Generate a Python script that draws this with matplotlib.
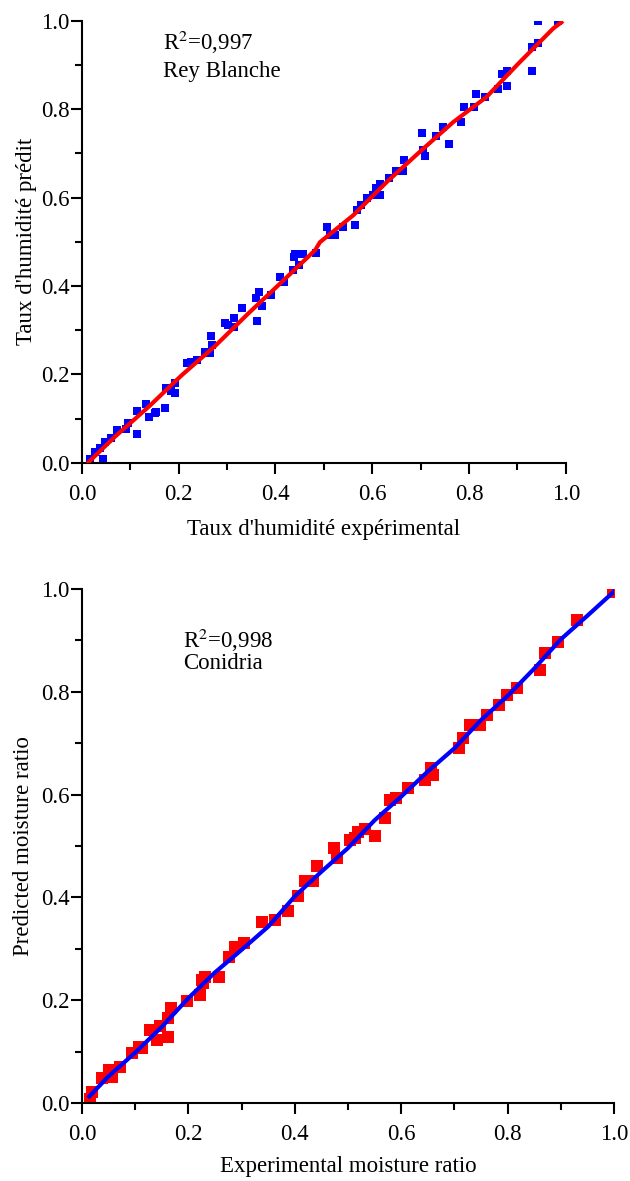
import matplotlib.pyplot as plt
from matplotlib.ticker import MultipleLocator

plt.rcParams['font.family'] = ['Liberation Serif', 'DejaVu Serif']

FS = 16.5

# ---------------- DATA ----------------
# Rey Blanche: experimental vs predicted moisture ratio
rb_exp = [0.017, 0.027, 0.044, 0.037, 0.047, 0.060, 0.072, 0.091, 0.095, 0.114,
          0.114, 0.132, 0.138, 0.151, 0.153, 0.171, 0.173, 0.184, 0.192, 0.192,
          0.217, 0.225, 0.238, 0.254, 0.265, 0.269, 0.267, 0.295, 0.302, 0.314,
          0.314, 0.331, 0.362, 0.360, 0.366, 0.372, 0.391, 0.409, 0.417, 0.436,
          0.438, 0.440, 0.448, 0.457, 0.483, 0.507, 0.512, 0.523, 0.539, 0.564,
          0.568, 0.577, 0.589, 0.601, 0.607, 0.616, 0.616, 0.634, 0.650, 0.663,
          0.665, 0.702, 0.705, 0.709, 0.731, 0.746, 0.758, 0.783, 0.789, 0.810,
          0.814, 0.833, 0.860, 0.868, 0.878, 0.878, 0.930, 0.930, 0.942, 0.942,
          0.983]
rb_pred = [0.009, 0.025, 0.009, 0.034, 0.047, 0.056, 0.074, 0.077, 0.090, 0.065,
           0.117, 0.133, 0.104, 0.113, 0.115, 0.124, 0.169, 0.162, 0.158, 0.181,
           0.226, 0.228, 0.232, 0.251, 0.248, 0.266, 0.287, 0.316, 0.312, 0.327,
           0.307, 0.350, 0.321, 0.372, 0.386, 0.354, 0.379, 0.420, 0.409, 0.436,
           0.465, 0.472, 0.447, 0.472, 0.474, 0.533, 0.515, 0.515, 0.533, 0.537,
           0.571, 0.582, 0.598, 0.605, 0.621, 0.605, 0.630, 0.643, 0.659, 0.659,
           0.684, 0.745, 0.707, 0.693, 0.740, 0.760, 0.722, 0.770, 0.804, 0.804,
           0.833, 0.828, 0.846, 0.880, 0.885, 0.851, 0.941, 0.885, 0.950, 0.998,
           0.998]
rb_fit_x = [0.014, 0.069, 0.138, 0.207, 0.275, 0.344, 0.413, 0.482, 0.492, 0.561,
            0.630, 0.698, 0.767, 0.836, 0.905, 0.974, 0.991]
rb_fit_y = [0.002, 0.060, 0.127, 0.199, 0.264, 0.338, 0.409, 0.481, 0.499, 0.560,
            0.635, 0.703, 0.770, 0.827, 0.906, 0.982, 0.996]

# Conidria
co_exp = [0.016, 0.019, 0.038, 0.050, 0.056, 0.072, 0.094, 0.107, 0.113, 0.128,
          0.141, 0.147, 0.162, 0.168, 0.162, 0.197, 0.222, 0.226, 0.231, 0.258,
          0.228, 0.276, 0.288, 0.304, 0.338, 0.362, 0.388, 0.407, 0.419, 0.434,
          0.442, 0.473, 0.479, 0.504, 0.513, 0.519, 0.532, 0.551, 0.570, 0.579,
          0.591, 0.613, 0.645, 0.660, 0.657, 0.709, 0.717, 0.729, 0.748, 0.761,
          0.783, 0.798, 0.817, 0.861, 0.870, 0.895, 0.930, 0.998]
co_pred = [0.008, 0.022, 0.049, 0.064, 0.051, 0.071, 0.097, 0.110, 0.107, 0.142,
           0.123, 0.149, 0.129, 0.184, 0.165, 0.199, 0.210, 0.239, 0.246, 0.245,
           0.233, 0.285, 0.304, 0.311, 0.353, 0.356, 0.374, 0.402, 0.431, 0.431,
           0.461, 0.496, 0.476, 0.512, 0.515, 0.528, 0.534, 0.520, 0.555, 0.589,
           0.593, 0.612, 0.628, 0.638, 0.651, 0.690, 0.710, 0.735, 0.735, 0.755,
           0.774, 0.794, 0.807, 0.842, 0.875, 0.897, 0.940, 0.995]
co_fit_x = [0.014, 0.050, 0.100, 0.150, 0.200, 0.250, 0.300, 0.350, 0.400, 0.450,
            0.500, 0.550, 0.600, 0.650, 0.700, 0.750, 0.800, 0.850, 0.900, 0.950,
            1.000]
co_fit_y = [0.013, 0.052, 0.098, 0.148, 0.204, 0.254, 0.298, 0.343, 0.402, 0.450,
            0.496, 0.550, 0.596, 0.645, 0.690, 0.745, 0.792, 0.845, 0.902, 0.948,
            0.995]
# --------------------------------------


def style_axes(ax):
    ax.set_xlim(0, 1)
    ax.set_ylim(0, 1)
    for s in ("top", "right"):
        ax.spines[s].set_visible(False)
    for s in ("left", "bottom"):
        ax.spines[s].set_linewidth(1.5)
    ax.xaxis.set_major_locator(MultipleLocator(0.2))
    ax.xaxis.set_minor_locator(MultipleLocator(0.1))
    ax.yaxis.set_major_locator(MultipleLocator(0.2))
    ax.yaxis.set_minor_locator(MultipleLocator(0.1))
    ax.xaxis.set_major_formatter(lambda v, p: f"{v:.1f}")
    ax.yaxis.set_major_formatter(lambda v, p: f"{v:.1f}")
    ax.tick_params(which="major", direction="out", length=8, width=1.5,
                   labelsize=FS)
    ax.tick_params(which="minor", direction="out", length=5, width=1.5)
    ax.tick_params(axis="x", which="major", pad=7)
    ax.tick_params(axis="y", which="major", pad=1)


fig = plt.figure(figsize=(6.3, 11.81), dpi=100)

# Top: Rey Blanche
ax1 = fig.add_axes([0.130, 0.608, 0.768, 0.3746])
ax1.scatter(rb_exp, rb_pred, marker="s", s=28, color="#0000ff", linewidths=0,
            zorder=2)
ax1.plot(rb_fit_x, rb_fit_y, color="#ff0000", lw=3, zorder=3)
style_axes(ax1)
ax1.set_xlabel("Taux d'humidité expérimental", fontsize=FS, labelpad=10)
ax1.set_ylabel("Taux d'humidité prédit", fontsize=FS, labelpad=3)
ax1.text(0.167, 0.95, "R$^2$=0,997", fontsize=FS, va="center", ha="left",
         math_fontfamily="stix")
ax1.text(0.167, 0.885, "Rey Blanche", fontsize=FS, va="center", ha="left")

# Bottom: Conidria
ax2 = fig.add_axes([0.130, 0.066, 0.8446, 0.4353])
ax2.scatter(co_exp, co_pred, marker="s", s=80, color="#ff0000", linewidths=0,
            zorder=2)
ax2.plot(co_fit_x, co_fit_y, color="#0000ff", lw=3, zorder=3)
style_axes(ax2)
ax2.set_xlabel("Experimental moisture ratio", fontsize=FS, labelpad=8)
ax2.set_ylabel("Predicted moisture ratio", fontsize=FS, labelpad=5)
ax2.text(0.19, 0.90, "R$^2$=0,998", fontsize=FS, va="center", ha="left",
         math_fontfamily="stix")
ax2.text(0.19, 0.855, "Conidria", fontsize=FS, va="center", ha="left")

fig.savefig("out.png", dpi=100)
